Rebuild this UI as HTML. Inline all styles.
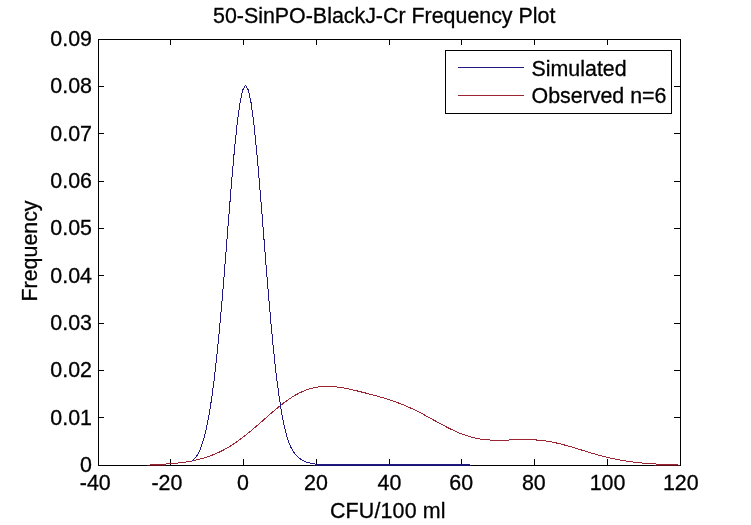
<!DOCTYPE html><html><head><meta charset="utf-8"><title>Frequency Plot</title><style>
html,body{margin:0;padding:0;background:#fff;overflow:hidden;}svg{will-change:transform;display:block;position:absolute;left:0;top:0;}
text{font-family:"Liberation Sans",sans-serif;font-size:21.4px;fill:#000;stroke:#000;stroke-width:0.3px;}
</style></head><body>
<svg width="751" height="525" viewBox="0 0 751 525">
<rect x="0" y="0" width="751" height="525" fill="#ffffff"/>
<path fill="#000" stroke="none" shape-rendering="crispEdges" d="M98,39h583v1h-583zM98,465h583v1h-583zM98,39h1v427h-1zM680,39h1v427h-1zM170,459h1v6h-1zM170,40h1v5h-1zM243,459h1v6h-1zM243,40h1v5h-1zM316,459h1v6h-1zM316,40h1v5h-1zM389,459h1v6h-1zM389,40h1v5h-1zM461,459h1v6h-1zM461,40h1v5h-1zM534,459h1v6h-1zM534,40h1v5h-1zM607,459h1v6h-1zM607,40h1v5h-1zM99,417h5v1h-5zM674,417h6v1h-6zM99,370h5v1h-5zM674,370h6v1h-6zM99,323h5v1h-5zM674,323h6v1h-6zM99,275h5v1h-5zM674,275h6v1h-6zM99,228h5v1h-5zM674,228h6v1h-6zM99,181h5v1h-5zM674,181h6v1h-6zM99,133h5v1h-5zM674,133h6v1h-6zM99,86h5v1h-5zM674,86h6v1h-6z"/>
<g fill="none" stroke-width="1" shape-rendering="crispEdges">
<path stroke="none" fill="#5c0c1a" d="M147,465h19v1h-19zM654,465h26v1h-26z"/>
<path stroke="none" fill="#17126a" d="M314,465h157v1h-157z"/>
<polyline stroke="#9b2433" points="149.94,464.50 155.27,464.48 160.61,464.28 165.95,464.00 171.29,463.64 176.62,463.17 181.96,462.57 187.30,461.81 192.63,460.85 197.97,459.67 203.31,458.24 208.65,456.51 213.98,454.48 219.32,452.10 224.66,449.36 229.99,446.26 235.33,442.80 240.67,439.01 246.01,434.90 251.34,430.53 256.68,425.97 262.02,421.29 267.35,416.57 272.69,411.92 278.03,407.44 283.36,403.21 288.70,399.34 294.04,395.89 299.38,392.94 304.71,390.52 310.05,388.66 315.39,387.36 320.72,386.58 326.06,386.29 331.40,386.43 336.74,386.93 342.07,387.72 347.41,388.72 352.75,389.88 358.08,391.14 363.42,392.47 368.76,393.85 374.10,395.28 379.43,396.77 384.77,398.33 390.11,400.02 395.44,401.84 400.78,403.84 406.12,406.03 411.46,408.41 416.79,410.99 422.13,413.73 427.47,416.60 432.80,419.55 438.14,422.50 443.48,425.40 448.82,428.17 454.15,430.74 459.49,433.06 464.83,435.08 470.16,436.76 475.50,438.10 480.84,439.09 486.18,439.76 491.51,440.13 496.85,440.27 502.19,440.23 507.52,440.07 512.86,439.87 518.20,439.68 523.54,439.58 528.87,439.62 534.21,439.83 539.55,440.24 544.88,440.88 550.22,441.73 555.56,442.79 560.90,444.04 566.23,445.45 571.57,446.97 576.91,448.57 582.24,450.22 587.58,451.85 592.92,453.45 598.25,454.98 603.59,456.42 608.93,457.74 614.27,458.93 619.60,459.99 624.94,460.91 630.28,461.71 635.61,462.38 640.95,462.95 646.29,463.41 651.63,463.78 656.96,464.08 662.30,464.31 667.64,464.49 672.97,464.50 678.31,464.50"/>
<polyline stroke="#1f1782" points="191.99,460.67 194.81,458.29 197.62,454.54 200.43,448.83 203.25,440.72 206.06,429.85 208.87,415.87 211.68,398.37 214.50,377.01 217.31,351.63 220.12,322.43 222.94,289.98 225.75,255.25 228.56,219.61 231.38,184.74 234.19,152.52 237.00,124.88 239.81,103.60 242.63,90.12 245.44,85.39 248.25,89.73 251.07,102.85 253.88,123.82 256.69,151.22 259.50,183.28 262.32,218.08 265.13,253.72 267.94,288.52 270.76,321.10 273.57,350.45 276.38,375.98 279.20,397.45 282.01,414.91 284.82,428.63 287.63,438.96 290.45,446.42 293.26,451.59 296.07,455.18 298.89,457.81 301.70,459.85 304.51,461.39 307.33,462.45 310.14,463.14 312.95,463.65 315.76,464.10 318.58,464.48 321.39,464.50 324.20,464.50 327.02,464.50 329.83,464.50 332.64,464.50 335.46,464.50 338.27,464.50 341.08,464.50 343.89,464.50 346.71,464.50 349.52,464.50 352.33,464.50 355.15,464.50 357.96,464.50 360.77,464.50 363.59,464.50 366.40,464.50 369.21,464.50 372.02,464.50 374.84,464.50 377.65,464.50 380.46,464.50 383.28,464.50 386.09,464.50 388.90,464.50 391.72,464.50 394.53,464.50 397.34,464.50 400.15,464.50 402.97,464.50 405.78,464.50 408.59,464.50 411.41,464.50 414.22,464.50 417.03,464.50 419.85,464.50 422.66,464.50 425.47,464.50 428.28,464.50 431.10,464.50 433.91,464.50 436.72,464.50 439.54,464.50 442.35,464.50 445.16,464.50 447.98,464.50 450.79,464.50 453.60,464.50 456.41,464.50 459.23,464.50 462.04,464.50 464.85,464.50 467.67,464.50 470.48,464.50"/>
</g>
<g>
<text x="213" y="22.8">50-SinPO-BlackJ-Cr Frequency Plot</text>
<text x="92" y="472.1" text-anchor="end">0</text>
<text x="92" y="424.8" text-anchor="end">0.01</text>
<text x="92" y="377.4" text-anchor="end">0.02</text>
<text x="92" y="330.1" text-anchor="end">0.03</text>
<text x="92" y="282.8" text-anchor="end">0.04</text>
<text x="92" y="235.4" text-anchor="end">0.05</text>
<text x="92" y="188.1" text-anchor="end">0.06</text>
<text x="92" y="140.8" text-anchor="end">0.07</text>
<text x="92" y="93.4" text-anchor="end">0.08</text>
<text x="92" y="46.1" text-anchor="end">0.09</text>
<text x="79.80" y="490.3">-40</text>
<text x="151.50" y="490.3">-20</text>
<text x="237.10" y="490.3">0</text>
<text x="304.00" y="490.3">20</text>
<text x="377.50" y="490.3">40</text>
<text x="449.30" y="490.3">60</text>
<text x="521.90" y="490.3">80</text>
<text x="589.70" y="490.3">100</text>
<text x="662.90" y="490.3">120</text>
<text x="330" y="517.6" textLength="115.6">CFU/100 ml</text>
<text transform="translate(37.4,301.5) rotate(-90)">Frequency</text>
</g>
<g shape-rendering="crispEdges">
<rect x="445.5" y="50.5" width="226" height="63" fill="#fff" stroke="#000" stroke-width="1"/>
<line x1="458" y1="67.5" x2="524" y2="67.5" stroke="#1f1782" stroke-width="1"/>
<line x1="458" y1="95.5" x2="524" y2="95.5" stroke="#9b2433" stroke-width="1"/>
</g>
<text x="531.5" y="75.5">Simulated</text>
<text x="531.5" y="103.2">Observed n=6</text>
</svg></body></html>
